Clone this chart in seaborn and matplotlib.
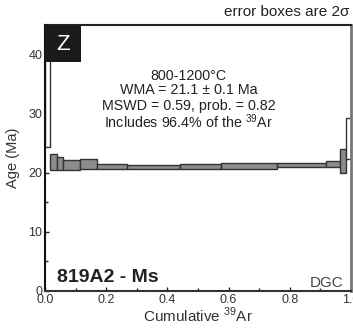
import numpy as np
import matplotlib
matplotlib.use("Agg")
import matplotlib.pyplot as plt
import seaborn as sns
from matplotlib.patches import Rectangle

# step edges (cumulative 39Ar fraction), plateau ages and 2-sigma errors
cum_left = [0.000, 0.015, 0.039, 0.059, 0.114, 0.170, 0.268, 0.441, 0.574, 0.759, 0.918, 0.966, 0.984]
cum_right = [0.015, 0.039, 0.059, 0.114, 0.170, 0.268, 0.441, 0.574, 0.759, 0.918, 0.966, 0.984, 1.000]
ages = [37.2, 21.75, 21.55, 21.25, 21.5, 21.05, 20.95, 21.0, 21.15, 21.3, 21.45, 21.95, 25.8]
errs = [12.9, 1.35, 1.15, 0.85, 0.8, 0.45, 0.4, 0.4, 0.45, 0.4, 0.55, 2.05, 3.5]
included = [False, True, True, True, True, True, True, True, True, True, True, True, False]

sample = "819A2 - Ms"
panel = "Z"
info_lines = ["800-1200°C",
              "WMA = 21.1 ± 0.1 Ma",
              "MSWD = 0.59, prob. = 0.82",
              r"Includes 96.4% of the $^{\mathregular{39}}$Ar"]

sns.set_style("ticks")
plt.rcParams["font.family"] = ["Liberation Sans", "DejaVu Sans"]
plt.rcParams["mathtext.fontset"] = "custom"
plt.rcParams["mathtext.rm"] = "Liberation Sans"

fig = plt.figure(figsize=(3.53, 3.31), dpi=100)
ax = fig.add_axes([0.1275, 0.121, 0.8665, 0.8035])

widths = np.array(cum_right) - np.array(cum_left)
bottoms = np.array(ages) - np.array(errs)
colors = ["#8c8c8c" if inc else "white" for inc in included]
ax.bar(cum_left, 2 * np.array(errs), width=widths, bottom=bottoms, align="edge",
       color=colors, edgecolor="#333333", linewidth=1.0, zorder=2)

ax.set_xlim(0, 1)
ax.set_ylim(0, 45)
ax.set_xticks([0, 0.2, 0.4, 0.6, 0.8, 1.0])
ax.set_xticks(np.arange(0.1, 1.0, 0.2), minor=True)
ax.set_yticks([0, 10, 20, 30, 40])
ax.set_yticks([5, 15, 25, 35], minor=True)
ax.set_xticklabels(["0.0", "0.2", "0.4", "0.6", "0.8", "1.0"])
ax.tick_params(which="both", direction="in", colors="#222222", labelcolor="#333333",
               labelsize=9, pad=2)
ax.tick_params(which="major", length=3, width=1)
ax.tick_params(which="minor", length=2, width=1)

ax.set_xlabel(r"Cumulative $^{\mathregular{39}}$Ar", fontsize=11, color="#333333", labelpad=0)
ax.set_ylabel("Age (Ma)", fontsize=10.5, color="#333333", labelpad=6)

ax.spines["left"].set_color("#111111")
ax.spines["left"].set_linewidth(1.5)
ax.spines["top"].set_color("#222222")
ax.spines["top"].set_linewidth(1.5)
ax.spines["bottom"].set_color("#333333")
ax.spines["bottom"].set_linewidth(1.5)
ax.spines["right"].set_color("#777777")
ax.spines["right"].set_linewidth(2)

# panel letter
ax.add_patch(Rectangle((0, 0.861), 0.118, 0.139, transform=ax.transAxes,
                       facecolor="#1a1a1a", edgecolor="none", zorder=5, clip_on=False))
ax.text(0.059, 0.925, panel, transform=ax.transAxes, ha="center", va="center",
        fontsize=16, color="white", zorder=6)

ys = [0.808, 0.756, 0.696, 0.636]
for y, line in zip(ys, info_lines):
    ax.text(0.47, y, line, transform=ax.transAxes, ha="center", va="center",
            fontsize=10.3, color="#222222")

ax.text(0.04, 0.05, sample, transform=ax.transAxes, ha="left", va="center",
        fontsize=14, fontweight="bold", color="#222222")
ax.text(0.975, 0.03, "DGC", transform=ax.transAxes, ha="right", va="center",
        fontsize=11, color="#444444")
fig.text(0.99, 0.963, "error boxes are 2σ", ha="right", va="center",
         fontsize=11, color="#222222")

fig.savefig("out.png", dpi=100)
